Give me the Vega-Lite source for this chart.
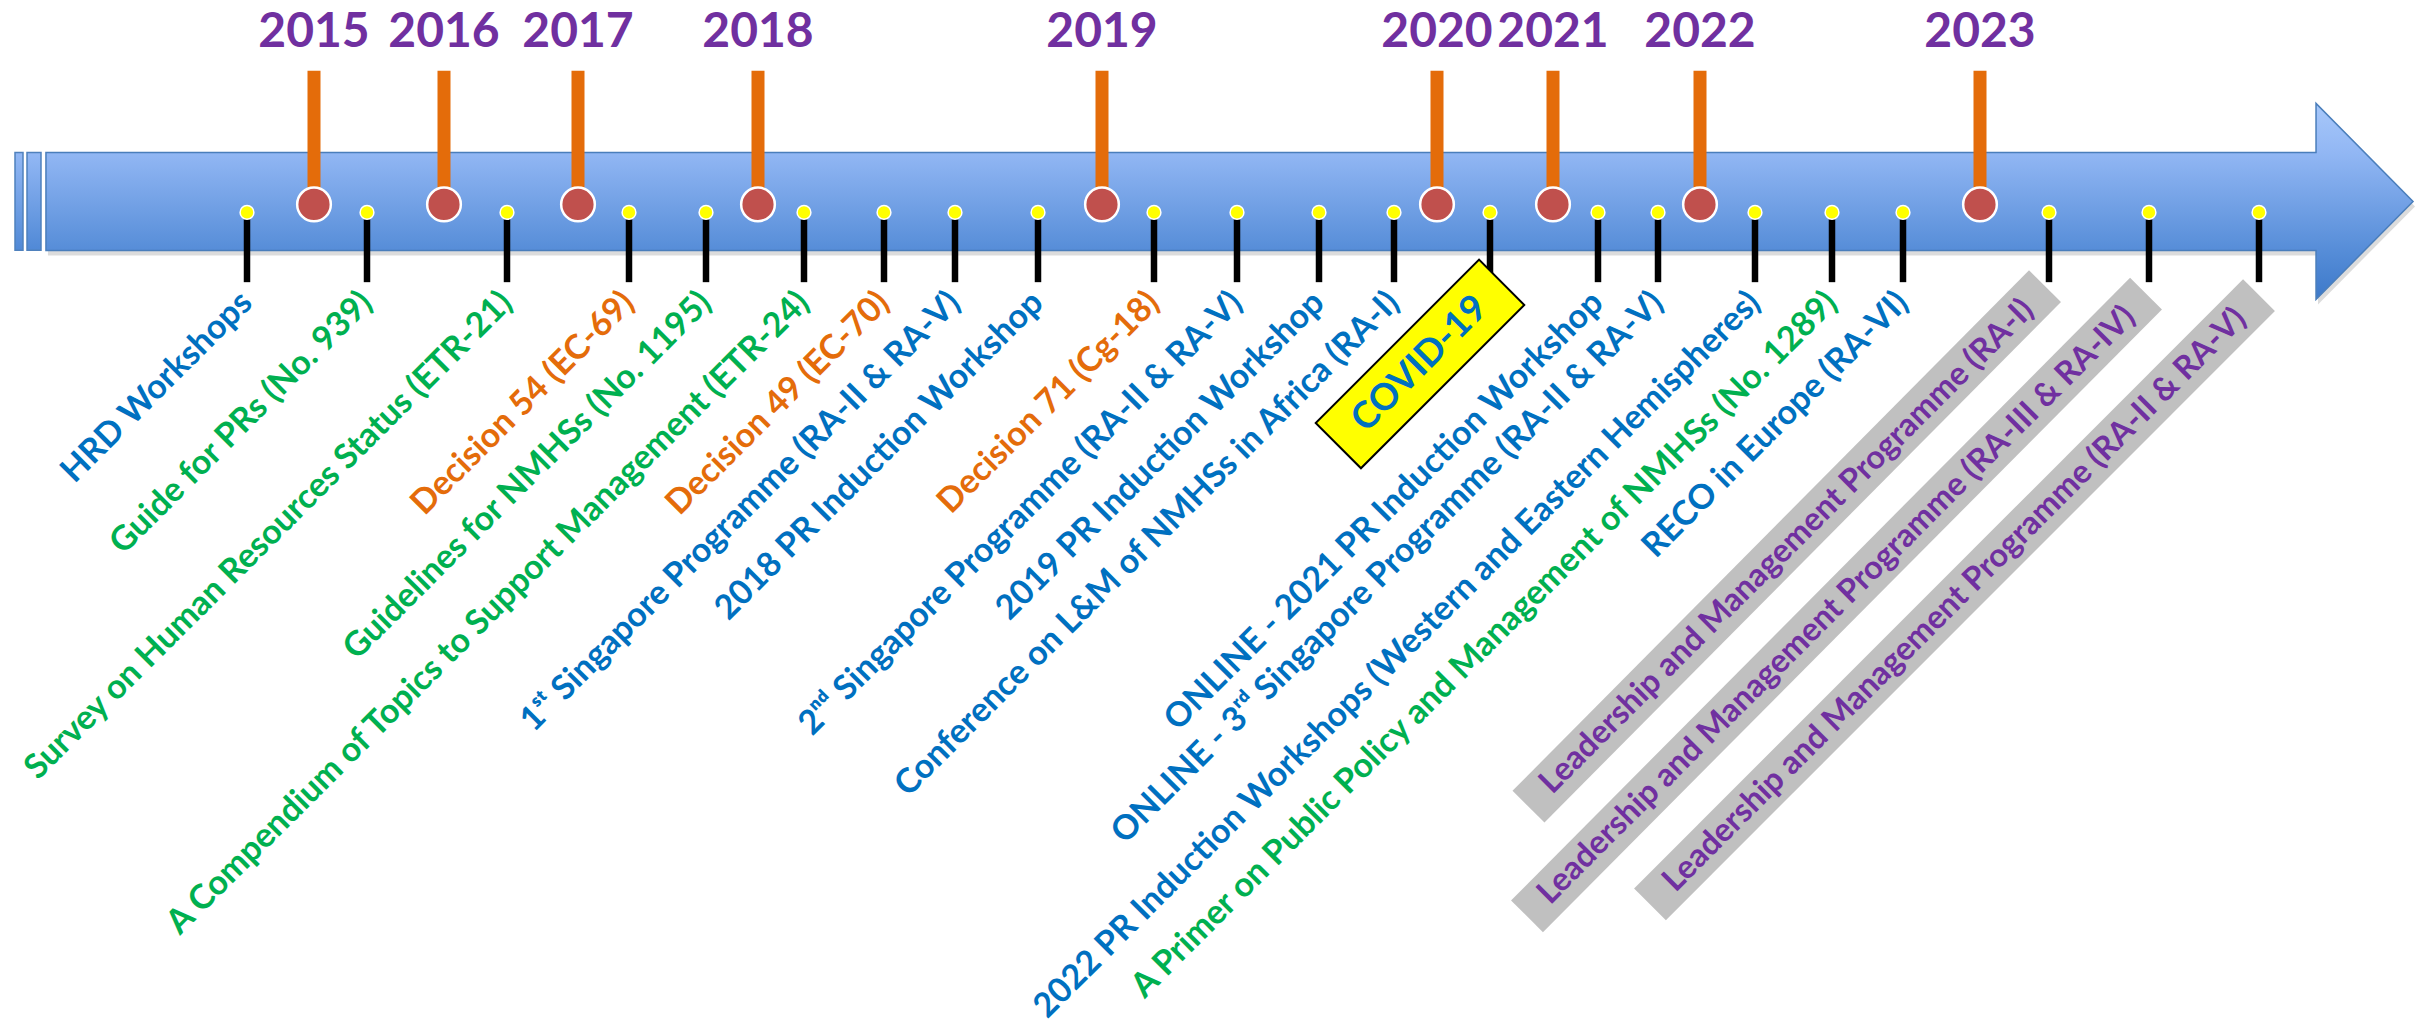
{
  "$schema": "https://vega.github.io/schema/vega-lite/v6.json",
  "width": 2425,
  "height": 1023,
  "padding": 0,
  "autosize": {"type": "fit", "contains": "padding"},
  "background": "white",
  "config": {"view": {"stroke": null}},
  "datasets": {
    "events": [
      {"pos": 247, "label": "HRD Workshops", "kind": "workshop"},
      {"pos": 367, "label": "Guide for PRs (No. 939)", "kind": "publication"},
      {"pos": 507, "label": "Survey on Human Resources Status (ETR-21)", "kind": "publication"},
      {"pos": 629, "label": "Decision 54 (EC-69)", "kind": "decision"},
      {"pos": 706, "label": "Guidelines for NMHSs (No. 1195)", "kind": "publication"},
      {"pos": 804, "label": "A Compendium of Topics to Support Management (ETR-24)", "kind": "publication"},
      {"pos": 884, "label": "Decision 49 (EC-70)", "kind": "decision"},
      {"pos": 955, "label": "1ˢᵗ Singapore Programme (RA-II & RA-V)", "kind": "workshop"},
      {"pos": 1038, "label": "2018 PR Induction Workshop", "kind": "workshop"},
      {"pos": 1154, "label": "Decision 71 (Cg-18)", "kind": "decision"},
      {"pos": 1237, "label": "2ⁿᵈ Singapore Programme (RA-II & RA-V)", "kind": "workshop"},
      {"pos": 1319, "label": "2019 PR Induction Workshop", "kind": "workshop"},
      {"pos": 1394, "label": "Conference on L&M of NMHSs in Africa (RA-I)", "kind": "workshop"},
      {"pos": 1490, "label": "COVID-19", "kind": "covid"},
      {"pos": 1598, "label": "ONLINE - 2021 PR Induction Workshop", "kind": "workshop"},
      {"pos": 1658, "label": "ONLINE - 3ʳᵈ Singapore Programme (RA-II & RA-V)", "kind": "workshop"},
      {"pos": 1755, "label": "2022 PR Induction Workshops (Western and Eastern Hemispheres)", "kind": "workshop"},
      {"pos": 1832, "label": "A Primer on Public Policy and Management of NMHSs (No. 1289)", "kind": "publication"},
      {"pos": 1903, "label": "RECO in Europe (RA-VI)", "kind": "workshop"},
      {"pos": 2049, "label": "Leadership and Management Programme (RA-I)", "kind": "lmp"},
      {"pos": 2149, "label": "Leadership and Management Programme (RA-III & RA-IV)", "kind": "lmp"},
      {"pos": 2259, "label": "Leadership and Management Programme (RA-II & RA-V)", "kind": "lmp"}
    ],
    "years": [
      {"pos": 314, "year": "2015"},
      {"pos": 444, "year": "2016"},
      {"pos": 578, "year": "2017"},
      {"pos": 758, "year": "2018"},
      {"pos": 1102, "year": "2019"},
      {"pos": 1437, "year": "2020"},
      {"pos": 1553, "year": "2021"},
      {"pos": 1700, "year": "2022"},
      {"pos": 1980, "year": "2023"}
    ],
    "lmp": [
      {"label": "Leadership and Management Programme (RA-I)", "bx1": 1528.5, "by1": 809, "bx2": 2045, "by2": 287, "cx": 1786.75, "cy": 548},
      {"label": "Leadership and Management Programme (RA-III & RA-IV)", "bx1": 1527, "by1": 919, "bx2": 2146, "by2": 294.5, "cx": 1836.5, "cy": 606.75},
      {"label": "Leadership and Management Programme (RA-II & RA-V)", "bx1": 1650, "by1": 907, "bx2": 2259, "by2": 296, "cx": 1954.5, "cy": 601.5}
    ],
    "covid": [
      {"label": "COVID-19", "cx": 1420, "cy": 365}
    ],
    "strips": [
      {"x1": 15, "x2": 23},
      {"x1": 27, "x2": 41}
    ]
  },
  "layer": [
    {
      "data": {"values": [{"part": "arrow"}]},
      "mark": {"type": "point", "shape": "M-12.077,-0.5L11.087,-0.5L11.087,-1L12.077,0L11.087,1L11.087,0.5L-12.077,0.5Z", "size": 38416, "filled": true, "fill": "#9a9a9a", "opacity": 0.35, "strokeWidth": 0, "yOffset": 5, "xOffset": 2},
      "encoding": {
        "x": {"datum": 1229.5, "type": "quantitative", "scale": {"domain": [0, 2425], "nice": false, "zero": false}, "axis": null},
        "y": {"datum": 202, "type": "quantitative", "scale": {"domain": [0, 1023], "nice": false, "zero": false, "reverse": true}, "axis": null}
      }
    },
    {
      "data": {"name": "strips"},
      "mark": {"type": "rect", "fill": {"gradient": "linear", "x1": 0, "y1": 0, "x2": 0, "y2": 1, "stops": [{"offset": 0, "color": "#93b8f5"}, {"offset": 1, "color": "#5089d6"}]}, "stroke": "#4f81bd", "strokeWidth": 1.5},
      "encoding": {
        "x": {"field": "x1", "type": "quantitative"},
        "x2": {"field": "x2"},
        "y": {"datum": 153, "type": "quantitative"},
        "y2": {"datum": 251}
      }
    },
    {
      "data": {"values": [{"part": "arrow"}]},
      "mark": {"type": "point", "shape": "M-12.077,-0.5L11.087,-0.5L11.087,-1L12.077,0L11.087,1L11.087,0.5L-12.077,0.5Z", "size": 38416, "filled": true, "opacity": 1, "fill": {"gradient": "linear", "x1": 0, "y1": 0, "x2": 0, "y2": 1, "stops": [{"offset": 0, "color": "#a8c8fa"}, {"offset": 0.25, "color": "#92b7f4"}, {"offset": 0.75, "color": "#568dd8"}, {"offset": 1, "color": "#3d79c9"}]}, "stroke": "#4a7ebb", "strokeWidth": 1.5},
      "encoding": {
        "x": {"datum": 1229.5, "type": "quantitative"},
        "y": {"datum": 202, "type": "quantitative"}
      }
    },
    {
      "data": {"name": "years"},
      "mark": {"type": "rule", "color": "#e46c0a", "strokeWidth": 13},
      "encoding": {
        "x": {"field": "pos", "type": "quantitative"},
        "y": {"datum": 71, "type": "quantitative"},
        "y2": {"datum": 192}
      }
    },
    {
      "data": {"name": "events"},
      "mark": {"type": "rule", "color": "#000000", "strokeWidth": 6.5},
      "encoding": {
        "x": {"field": "pos", "type": "quantitative"},
        "y": {"datum": 213, "type": "quantitative"},
        "y2": {"datum": 283}
      }
    },
    {
      "data": {"name": "years"},
      "mark": {"type": "point", "shape": "circle", "filled": true, "fill": "#c0504d", "stroke": "white", "strokeWidth": 2.5, "size": 1134, "opacity": 1},
      "encoding": {
        "x": {"field": "pos", "type": "quantitative"},
        "y": {"datum": 205, "type": "quantitative"}
      }
    },
    {
      "data": {"name": "events"},
      "mark": {"type": "point", "shape": "circle", "filled": true, "fill": "#ffff00", "stroke": "white", "strokeWidth": 1.5, "size": 190, "opacity": 1},
      "encoding": {
        "x": {"field": "pos", "type": "quantitative"},
        "y": {"datum": 213, "type": "quantitative"}
      }
    },
    {
      "data": {"name": "years"},
      "mark": {"type": "text", "font": "Lato", "fontWeight": "bold", "fontSize": 48, "color": "#7030a0", "baseline": "alphabetic", "align": "center"},
      "encoding": {
        "x": {"field": "pos", "type": "quantitative"},
        "y": {"datum": 47, "type": "quantitative"},
        "text": {"field": "year"}
      }
    },
    {
      "data": {"name": "lmp"},
      "mark": {"type": "rule", "color": "#c0c0c0", "strokeWidth": 45, "strokeCap": "butt"},
      "encoding": {
        "x": {"field": "bx1", "type": "quantitative"},
        "y": {"field": "by1", "type": "quantitative"},
        "x2": {"field": "bx2"},
        "y2": {"field": "by2"}
      }
    },
    {
      "data": {"name": "lmp"},
      "mark": {"type": "text", "font": "Lato", "fontWeight": "bold", "fontSize": 32.5, "color": "#7030a0", "angle": 315, "align": "center", "baseline": "middle"},
      "encoding": {
        "x": {"field": "cx", "type": "quantitative"},
        "y": {"field": "cy", "type": "quantitative"},
        "text": {"field": "label"}
      }
    },
    {
      "data": {"name": "covid"},
      "mark": {"type": "point", "shape": "M-1,-0.277L1,-0.277L1,0.277L-1,0.277Z", "size": 53361, "angle": 315, "filled": true, "fill": "#ffff00", "stroke": "#000000", "strokeWidth": 2, "opacity": 1},
      "encoding": {
        "x": {"field": "cx", "type": "quantitative"},
        "y": {"field": "cy", "type": "quantitative"}
      }
    },
    {
      "data": {"name": "covid"},
      "mark": {"type": "text", "font": "Lato", "fontWeight": "bold", "fontSize": 37, "color": "#0070c0", "angle": 315, "align": "center", "baseline": "middle"},
      "encoding": {
        "x": {"field": "cx", "type": "quantitative"},
        "y": {"field": "cy", "type": "quantitative"},
        "text": {"field": "label"}
      }
    },
    {
      "data": {"name": "events"},
      "transform": [{"filter": "datum.kind !== 'covid' && datum.kind !== 'lmp'"}],
      "mark": {"type": "text", "font": "Lato", "fontWeight": "bold", "fontSize": 34, "angle": 315, "align": "right", "baseline": "middle", "dx": -11, "dy": 11},
      "encoding": {
        "x": {"field": "pos", "type": "quantitative"},
        "y": {"datum": 283, "type": "quantitative"},
        "text": {"field": "label"},
        "color": {"field": "kind", "type": "nominal", "legend": null, "scale": {"domain": ["workshop", "publication", "decision", "lmp", "covid"], "range": ["#0070c0", "#00b050", "#e46c0a", "#7030a0", "#0070c0"]}}
      }
    }
  ]
}
